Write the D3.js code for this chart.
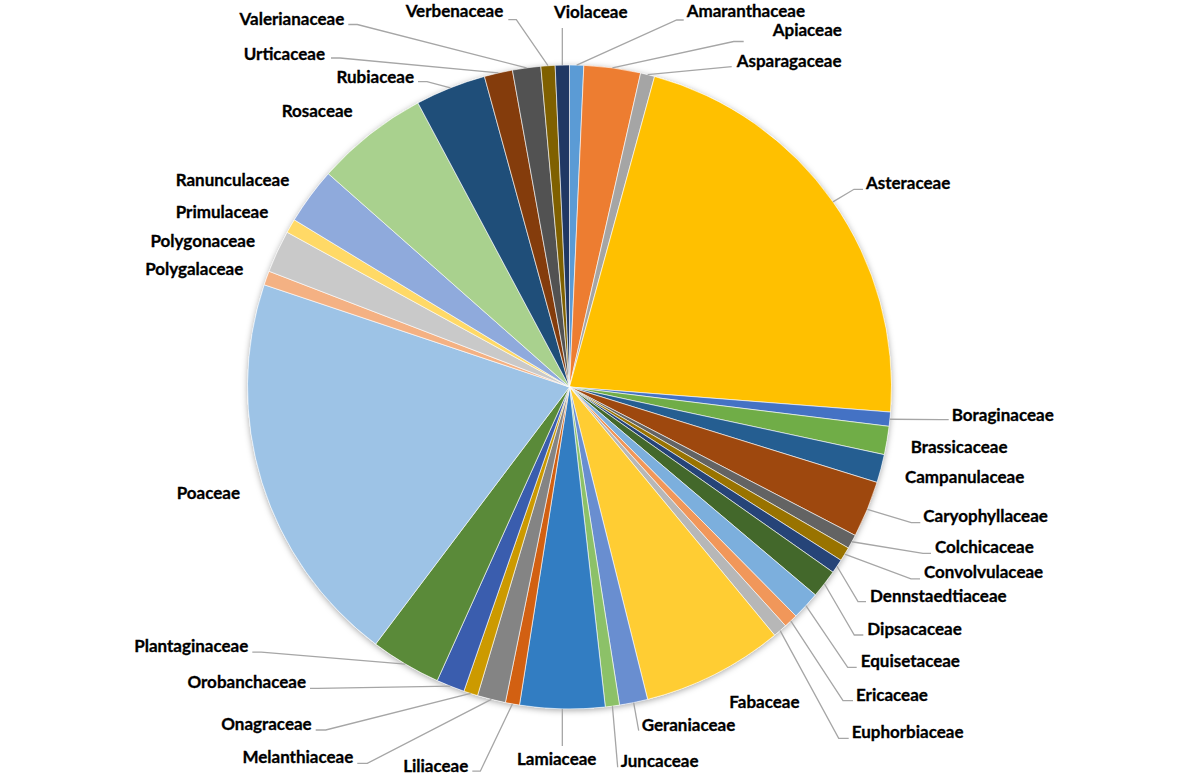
<!DOCTYPE html>
<html>
<head>
<meta charset="utf-8">
<script src="https://cdn.jsdelivr.net/npm/d3@7"></script>
<style>
  html, body { margin: 0; padding: 0; background: #ffffff; }
  #svgWrapper { width: 1186px; height: 775px; }
  text { font-family: Lato, "Open Sans", sans-serif; font-weight: bold; }
</style>
</head>
<body>
<div id="svgWrapper"></div>
<script>
"use strict"
// plant families and number of species
var families = ["Amaranthaceae", "Apiaceae", "Asparagaceae", "Asteraceae", "Boraginaceae",
    "Brassicaceae", "Campanulaceae", "Caryophyllaceae", "Colchicaceae", "Convolvulaceae",
    "Dennstaedtiaceae", "Dipsacaceae", "Equisetaceae", "Ericaceae", "Euphorbiaceae",
    "Fabaceae", "Geraniaceae", "Juncaceae", "Lamiaceae", "Liliaceae",
    "Melanthiaceae", "Onagraceae", "Orobanchaceae", "Plantaginaceae", "Poaceae",
    "Polygalaceae", "Polygonaceae", "Primulaceae", "Ranunculaceae", "Rosaceae",
    "Rubiaceae", "Urticaceae", "Valerianaceae", "Verbenaceae", "Violaceae"];
var counts = [1, 4, 1, 31, 1,
    2, 2, 4, 1, 1,
    1, 2, 2, 1, 1,
    10, 2, 1, 6, 1,
    2, 1, 2, 5, 28,
    1, 3, 1, 4, 8,
    5, 2, 2, 1, 1];

// office colour cycle
var colors = ["#5B9BD5", "#ED7D31", "#A5A5A5", "#FFC000", "#4472C4", "#70AD47",
    "#255E91", "#9E480E", "#636363", "#997300", "#264478", "#43682B",
    "#7CAFDD", "#F1975A", "#B7B7B7", "#FFCD33", "#698ED0", "#8CC168",
    "#327DC2", "#D26012", "#848484", "#CC9A00", "#3A5DAE", "#5A8A39",
    "#9DC3E6", "#F4B183", "#C9C9C9", "#FFD966", "#8FAADC", "#A9D18E",
    "#1F4E79", "#843C0C", "#525252", "#7F6000", "#203864"];

// label placement (x, baseline y, anchor, leader: gap, elbow, dy / vertical end)
var labelLayout = [
    {x: 686.7, y: 17, a: "start", lead: {gap: 3, elbow: 7, dy: 3}},
    {x: 772.7, y: 36, a: "start", lead: {gap: 29, elbow: 10, dy: 5.5}},
    {x: 736.7, y: 66.7, a: "start", lead: {gap: 5, elbow: 0, dy: 0}},
    {x: 866, y: 189.3, a: "start", lead: {gap: 3, elbow: 9, dy: 0}},
    {x: 951.7, y: 420.7, a: "start", lead: {gap: 3, elbow: 8, dy: -1}},
    {x: 910.7, y: 453.3, a: "start", lead: null},
    {x: 905, y: 483.3, a: "start", lead: null},
    {x: 923.3, y: 521.7, a: "start", lead: {gap: 3, elbow: 9, dy: 1}},
    {x: 935, y: 553.3, a: "start", lead: {gap: 4, elbow: 8, dy: 0}},
    {x: 924, y: 578.3, a: "start", lead: {gap: 4, elbow: 9, dy: 0.5}},
    {x: 870, y: 601.7, a: "start", lead: {gap: 4, elbow: 8, dy: 0}},
    {x: 867.3, y: 635, a: "start", lead: {gap: 4, elbow: 9, dy: 0}},
    {x: 860.7, y: 667.3, a: "start", lead: {gap: 4, elbow: 9, dy: 0}},
    {x: 856, y: 700.7, a: "start", lead: {gap: 3, elbow: 10, dy: 0}},
    {x: 851.7, y: 738.3, a: "start", lead: {gap: 3, elbow: 10, dy: 0}},
    {x: 729.3, y: 708.3, a: "start", lead: null},
    {x: 641.7, y: 730.7, a: "start", lead: {gap: 3, elbow: 0, dy: 0}},
    {x: 620.7, y: 767.3, a: "start", lead: {gap: 3, elbow: 0, dy: 0}},
    {x: 556.7, y: 765, a: "middle", lead: {vert: 746}},
    {x: 468.3, y: 771.7, a: "end", lead: {gap: 4, elbow: 8, dy: -0.5}},
    {x: 353.3, y: 763.3, a: "end", lead: {gap: 4, elbow: 10, dy: 0}},
    {x: 311.7, y: 730, a: "end", lead: {gap: 4, elbow: 10, dy: 0}},
    {x: 306, y: 688.3, a: "end", lead: {gap: 4, elbow: 8, dy: 0}},
    {x: 248.3, y: 651.7, a: "end", lead: {gap: 4, elbow: 9, dy: 0.5}},
    {x: 240, y: 499, a: "end", lead: null},
    {x: 243.3, y: 275, a: "end", lead: null},
    {x: 255, y: 247.3, a: "end", lead: null},
    {x: 268.3, y: 218.3, a: "end", lead: null},
    {x: 289.3, y: 185.7, a: "end", lead: null},
    {x: 352.7, y: 117.3, a: "end", lead: null},
    {x: 414, y: 82.7, a: "end", lead: {gap: 4, elbow: 9, dy: -1}},
    {x: 325, y: 60, a: "end", lead: {gap: 6, elbow: 9, dy: -2}},
    {x: 344.3, y: 25, a: "end", lead: {gap: 4, elbow: 9, dy: -0.5}},
    {x: 503.3, y: 16.7, a: "end", lead: {gap: 5, elbow: 8, dy: 3}},
    {x: 590.7, y: 18.3, a: "middle", lead: {vert: 28}}
];

function drawChart() {
    var fullWidth = 1186;
    var fullHeight = 775;
    var cx = 569.5;
    var cy = 387;
    var radius = 322;

    var dataset = families.map(function(f, i) {
        return {name: f, count: counts[i], color: colors[i], layout: labelLayout[i]};
    });

    var svg = d3.select("#svgWrapper").append("svg")
        .attr("width", fullWidth).attr("height", fullHeight);

    var defs = svg.append("defs");
    var filter = defs.append("filter").attr("id", "shadow")
        .attr("x", "-10%").attr("y", "-10%").attr("width", "120%").attr("height", "120%");
    filter.append("feDropShadow")
        .attr("dx", 0).attr("dy", 1.5).attr("stdDeviation", 3)
        .attr("flood-color", "#000").attr("flood-opacity", 0.35);

    var pie = d3.pie().sort(null).value(function(d) { return d.count; });
    var arc = d3.arc().innerRadius(0).outerRadius(radius);
    var arcs = pie(dataset);

    var g = svg.append("g").attr("transform", "translate(" + cx + "," + cy + ")");

    // shadow disc under the slices
    g.append("circle").attr("r", radius).attr("fill", "#ffffff").attr("filter", "url(#shadow)");

    g.selectAll(".slice")
        .data(arcs)
        .enter()
        .append("path")
            .attr("class", "slice")
            .attr("d", arc)
            .attr("fill", function(d) { return d.data.color; })
            .attr("stroke", "#ffffff")
            .attr("stroke-width", 0.6);

    var labels = svg.append("g").attr("id", "labels");
    var leaders = svg.append("g").attr("id", "leaders");

    arcs.forEach(function(d) {
        var lay = d.data.layout;
        labels.append("text")
            .attr("x", lay.x).attr("y", lay.y)
            .attr("text-anchor", lay.a)
            .attr("font-size", "17px")
            .attr("fill", "#000000")
            .attr("stroke", "#000000")
            .attr("stroke-width", 0.3)
            .text(d.data.name);
        if (!lay.lead) return;

        var mid = (d.startAngle + d.endAngle) / 2;
        var px = cx + radius * Math.sin(mid);
        var py = cy - radius * Math.cos(mid);
        var pts;
        if (lay.lead.vert !== undefined) {
            pts = [[px, py], [px, lay.lead.vert]];
        } else {
            var ly = lay.y + lay.lead.dy;
            var ex, bx;
            if (lay.a === "start") {
                ex = lay.x - lay.lead.gap;
                bx = ex - lay.lead.elbow;
            } else {
                ex = lay.x + lay.lead.gap;
                bx = ex + lay.lead.elbow;
            }
            pts = [[px, py], [bx, ly], [ex, ly]];
        }
        leaders.append("path")
            .attr("d", d3.line()(pts))
            .attr("fill", "none")
            .attr("stroke", "#A6A6A6")
            .attr("stroke-width", 1.3);
    });
}

window.onload = drawChart;
</script>
</body>
</html>
